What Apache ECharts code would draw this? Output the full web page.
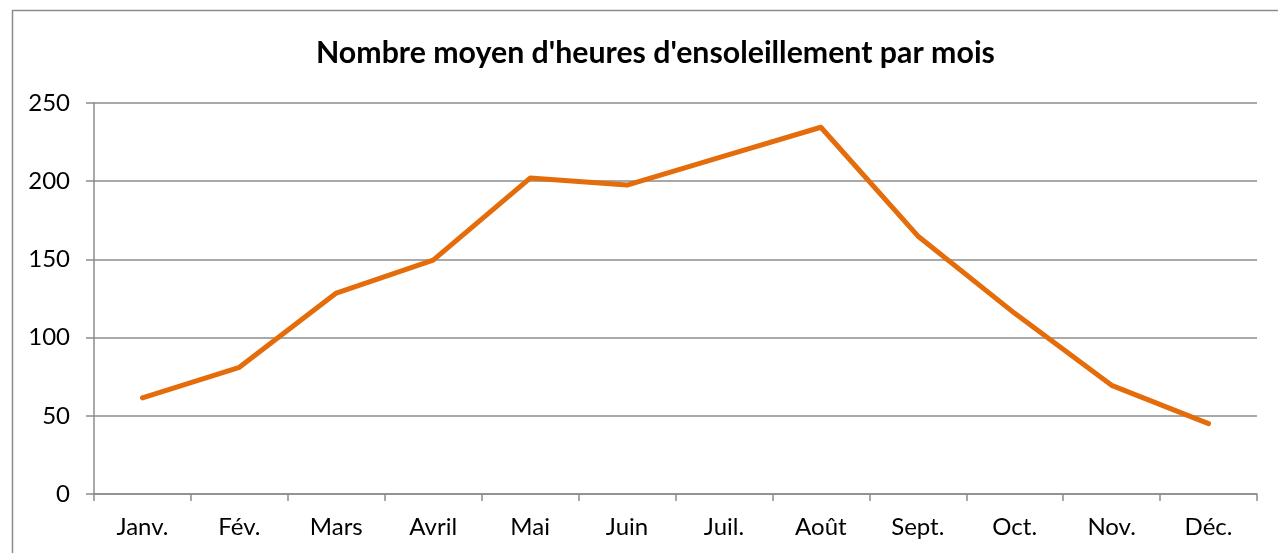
<!DOCTYPE html>
<html>
<head>
<meta charset="utf-8">
<script src="https://cdn.jsdelivr.net/npm/echarts@6/dist/echarts.min.js"></script>
<style>
  html, body { margin: 0; padding: 0; background: #fff; }
  #chart { width: 1278px; height: 553px; }
</style>
</head>
<body>
<div id="chart"></div>
<script>
const months = ['Janv.', 'Fév.', 'Mars', 'Avril', 'Mai', 'Juin', 'Juil.', 'Août', 'Sept.', 'Oct.', 'Nov.', 'Déc.']
const sunHours = [61.5, 81, 128.5, 149.5, 202, 197.5, 216, 234.5, 165, 115.5, 69.5, 45]
const yTicks = [0, 50, 100, 150, 200, 250]

const font = 'Lato, "Open Sans", sans-serif'
const chart = echarts.init(document.getElementById('chart'), null, { renderer: 'canvas' })
chart.setOption({
  animation: false,
  graphic: [{
    type: 'rect',
    shape: { x: 12.5, y: 10.5, width: 1300, height: 600 },
    style: { fill: 'none', stroke: '#8c8c8c', lineWidth: 1.5 }
  }],
  title: {
    text: "Nombre moyen d'heures d'ensoleillement par mois",
    left: 311,
    top: 33,
    textStyle: { fontFamily: font, fontSize: 30.3, fontWeight: 'bold', color: '#000' }
  },
  grid: { left: 94, right: 21, top: 103, bottom: 59 },
  xAxis: {
    type: 'category',
    data: months,
    boundaryGap: true,
    axisLine: { lineStyle: { color: '#8c8c8c', width: 1.5 } },
    axisTick: { show: true, length: 7, lineStyle: { color: '#8c8c8c', width: 1.5 } },
    axisLabel: { fontFamily: font, fontSize: 24, color: '#000', margin: 21 }
  },
  yAxis: {
    type: 'value',
    min: yTicks[0],
    max: yTicks[yTicks.length - 1],
    interval: yTicks[1] - yTicks[0],
    axisLine: { show: true, lineStyle: { color: '#8c8c8c', width: 1.5 } },
    axisTick: { show: true, length: 8, lineStyle: { color: '#8c8c8c', width: 1.5 } },
    splitLine: { lineStyle: { color: '#8c8c8c', width: 1.5 } },
    axisLabel: { fontFamily: font, fontSize: 24, color: '#000', margin: 24 }
  },
  series: [{
    type: 'line',
    data: sunHours,
    symbol: 'none',
    lineStyle: { color: '#e46c0a', width: 5, cap: 'round', join: 'round' }
  }]
})
</script>
</body>
</html>
